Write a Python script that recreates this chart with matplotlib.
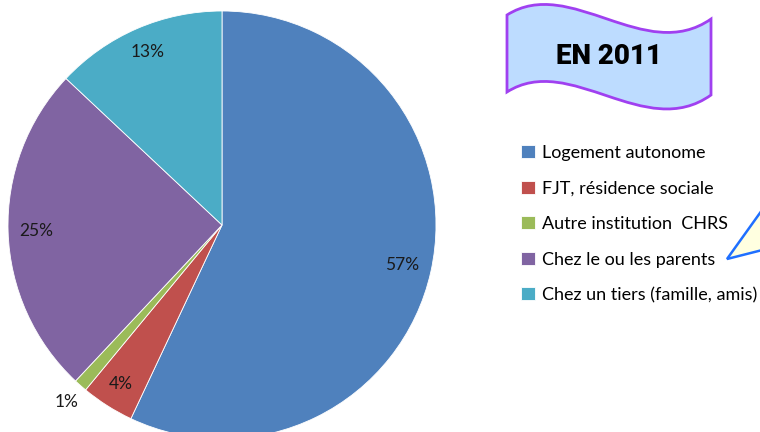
import numpy as np
import matplotlib.pyplot as plt
from matplotlib.path import Path
from matplotlib.patches import PathPatch, Polygon

# data
labels = ['Logement autonome', 'FJT, résidence sociale', 'Autre institution  CHRS',
          'Chez le ou les parents', 'Chez un tiers (famille, amis)']
values = [57, 4, 1, 25, 13]
colors = ['#4F81BD', '#C0504D', '#9BBB59', '#8064A2', '#4BACC6']
title = 'EN 2011'

W, H = 760, 432
fig = plt.figure(figsize=(W / 100, H / 100), dpi=100)

# pie axes, placed in pixels (centre 222,225 from top, radius 214)
cx, cy, r = 222, 225, 214
ax = fig.add_axes([(cx - r) / W, (H - cy - r) / H, 2 * r / W, 2 * r / H])
wedges, _ = ax.pie(values, colors=colors, startangle=90, counterclock=False,
                   radius=1, wedgeprops=dict(edgecolor='white', linewidth=0.6))
ax.set_xlim(-1, 1)
ax.set_ylim(-1, 1)
ax.set_aspect('equal')
ax.axis('off')

# percentage labels
dists = [0.86, 0.88, 1.10, 0.87, 0.88]
for w, v, d in zip(wedges, values, dists):
    a = np.deg2rad((w.theta1 + w.theta2) / 2)
    ax.text(d * np.cos(a), d * np.sin(a), f'{v}%', ha='center', va='center',
            fontsize=12.5, family='Lato', color='#1a1a1a')

# legend
ax.legend(wedges, labels, loc='upper left', bbox_to_anchor=(521 / W, 1 - 145 / H),
          bbox_transform=fig.transFigure, frameon=False, prop=dict(family='Lato', size=13),
          handlelength=0.8, handleheight=0.75, handletextpad=0.35, labelspacing=1.08,
          borderpad=0, borderaxespad=0)

# overlay in pixel coordinates for the decorations
ov = fig.add_axes([0, 0, 1, 1])
ov.set_xlim(0, W)
ov.set_ylim(H, 0)
ov.axis('off')

verts = [(507, 15), (570, -25), (645, 65), (711, 19),
         (711, 95),
         (645, 142), (570, 52), (507, 92),
         (507, 15)]
codes = [Path.MOVETO, Path.CURVE4, Path.CURVE4, Path.CURVE4,
         Path.LINETO,
         Path.CURVE4, Path.CURVE4, Path.CURVE4,
         Path.CLOSEPOLY]
ov.add_patch(PathPatch(Path(verts, codes), facecolor='#BDDCFF', edgecolor='#A040F0', lw=2))
ov.text(609, 57, title, ha='center', va='center', fontsize=20, fontweight='heavy',
        family='Roboto', color='black')

ov.add_patch(Polygon([(727, 259), (790, 171), (790, 243)], closed=True,
                     facecolor='#FFFFE0', edgecolor='#1F6FFF', lw=1.8))

fig.savefig('out.png', dpi=100)
